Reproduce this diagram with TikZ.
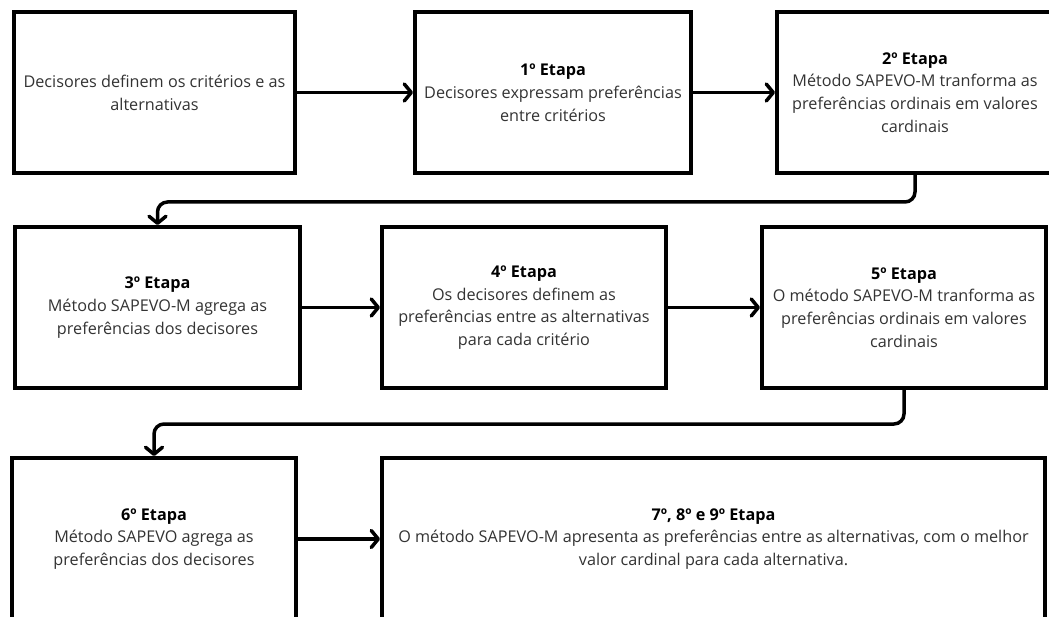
\documentclass[tikz,border=0pt]{standalone}
\usepackage{fontspec}
\setmainfont{Open Sans}
\usetikzlibrary{arrows.meta}
\definecolor{txt}{HTML}{333333}
\tikzset{
  box/.style={draw=black, line width=4pt, fill=white, align=center,
    text=txt, font=\fontsize{16.2}{22.8}\selectfont, inner sep=0pt},
  arr/.style={line width=3.5pt, rounded corners=10pt,
    -{Straight Barb[length=7pt, width=17pt, line width=3.5pt, round]}},
}
\newcommand{\etapa}[1]{{\bfseries\color{black}#1}}
\begin{document}
\begin{tikzpicture}[x=1pt, y=-1pt]
\useasboundingbox (0,0) rectangle (1049,617);
\fill[white] (0,0) rectangle (1049,617);

% first row
\node[box, minimum width=281pt, minimum height=161pt] (b0) at (154.5,92.5)
  {Decisores definem os critérios e as\\alternativas};
\node[box, minimum width=276pt, minimum height=161pt] (b1) at (553,92.5)
  {\etapa{1º Etapa}\\Decisores expressam preferências\\entre critérios};
\node[box, minimum width=276pt, minimum height=161pt] (b2) at (915,92.5)
  {\etapa{2º Etapa}\\Método SAPEVO-M tranforma as\\preferências ordinais em valores\\cardinais};

% second row
\node[box, minimum width=285pt, minimum height=161pt] (b3) at (157.5,307.5)
  {\etapa{3º Etapa}\\Método SAPEVO-M agrega as\\preferências dos decisores};
\node[box, minimum width=284pt, minimum height=161pt] (b4) at (524,307.5)
  {\etapa{4º Etapa}\\Os decisores definem as\\preferências entre as alternativas\\para cada critério};
\node[box, minimum width=284pt, minimum height=161pt] (b5) at (904,307.5)
  {\etapa{5º Etapa}\\O método SAPEVO-M tranforma as\\preferências ordinais em valores\\cardinais};

% third row
\node[box, minimum width=284pt, minimum height=162pt] (b6) at (154,539)
  {\etapa{6º Etapa}\\Método SAPEVO agrega as\\preferências dos decisores};
\node[box, minimum width=663pt, minimum height=162pt] (b7) at (713.5,539)
  {\etapa{7º, 8º e 9º Etapa}\\O método SAPEVO-M apresenta as preferências entre as alternativas, com o melhor\\valor cardinal para cada alternativa.};

% connectors
\draw[arr] (b0.east) -- (b1.west);
\draw[arr] (b1.east) -- (b2.west);
\draw[arr] (b2.south) -- ++(0,27) -| (b3.north);
\draw[arr] (b3.east) -- (b4.west);
\draw[arr] (b4.east) -- (b5.west);
\draw[arr] (b5.south) -- ++(0,34) -| (b6.north);
\draw[arr] (b6.east) -- (b7.west);
\end{tikzpicture}
\end{document}
